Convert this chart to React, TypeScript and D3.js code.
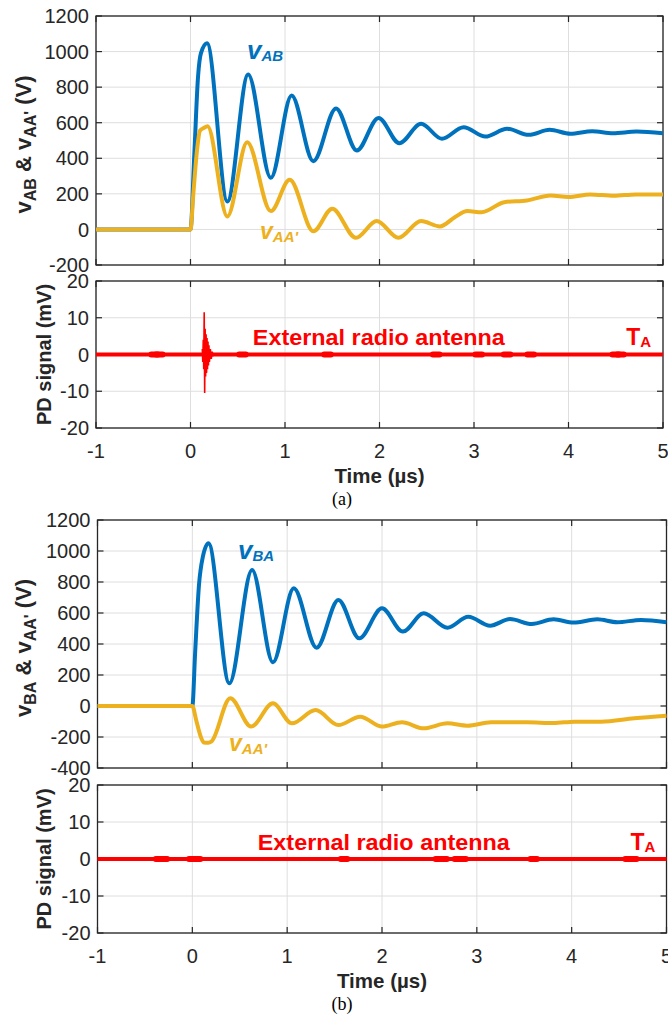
import React from 'react';
import * as d3 from 'd3';

// ---- data ----
const timeTicks = [-1, 0, 1, 2, 3, 4, 5];
const voltTicksA = [-200, 0, 200, 400, 600, 800, 1000, 1200];
const voltTicksB = [-400, -200, 0, 200, 400, 600, 800, 1000, 1200];
const pdTicks = [-20, -10, 0, 10, 20];

// (a) v_AB
const aBlueT = [-1, 0, 0.04, 0.08, 0.11, 0.175, 0.39, 0.61, 0.85, 1.07, 1.3, 1.54, 1.76, 1.99, 2.21, 2.44, 2.66, 2.89, 3.12, 3.35, 3.58, 3.8, 4.02, 4.25, 4.47, 4.72, 5];
const aBlueV = [0, 0, 420, 860, 990, 1047, 157, 871, 290, 753, 384, 680, 444, 627, 485, 594, 510, 575, 522, 566, 532, 560, 538, 552, 541, 550, 541];
// (a) v_AA'
const aYellowT = [-1, 0, 0.03, 0.07, 0.1, 0.14, 0.18, 0.39, 0.6, 0.85, 1.05, 1.3, 1.5, 1.75, 1.97, 2.2, 2.44, 2.64, 2.8, 2.93, 3.08, 3.32, 3.56, 3.81, 4.0, 4.23, 4.48, 4.71, 5];
const aYellowV = [0, 0, 200, 450, 555, 570, 580, 73, 490, 103, 279, -10, 116, -47, 47, -47, 47, 17, 70, 103, 97, 153, 163, 191, 182, 197, 189, 197, 197];
// (a) PD burst
const aBurstT = [0.125, 0.13, 0.135, 0.14, 0.145, 0.15, 0.155, 0.16, 0.165, 0.17, 0.175, 0.18, 0.185, 0.19, 0.195, 0.2, 0.21, 0.22, 0.23, 0.24];
const aBurstV = [1.5, -2, 4, -4, 11.5, -10.5, 7, -6, 5.5, -5, 4.5, -4, 3.5, -3, 2.5, -2, 1.5, -1.2, 0.8, -0.5];
const aNoiseT = [-0.38, -0.33, 0.55, 1.45, 2.6, 3.05, 3.35, 3.6, 4.5, 4.55];

// (b) v_BA
const bBlueT = [-1, 0, 0.03, 0.07, 0.11, 0.17, 0.39, 0.63, 0.85, 1.07, 1.31, 1.54, 1.76, 2.0, 2.22, 2.44, 2.69, 2.91, 3.14, 3.35, 3.58, 3.81, 4.02, 4.27, 4.48, 4.73, 5];
const bBlueV = [0, 0, 350, 780, 960, 1050, 146, 877, 282, 759, 376, 684, 437, 630, 480, 598, 505, 576, 518, 561, 529, 559, 538, 559, 540, 555, 540];
// (b) v_AA'
const bYellowT = [-1, 0, 0.04, 0.09, 0.12, 0.17, 0.2, 0.4, 0.62, 0.85, 1.05, 1.3, 1.54, 1.77, 2.0, 2.21, 2.44, 2.69, 2.9, 3.15, 3.53, 3.81, 4.03, 4.31, 4.66, 5];
const bYellowV = [0, 0, -90, -200, -235, -237, -230, 50, -133, 17, -112, -26, -123, -69, -133, -105, -144, -112, -127, -105, -105, -110, -101, -101, -79, -63];
const bNoiseT = [-0.35, -0.3, 0.0, 0.05, 1.6, 2.6, 2.65, 2.8, 2.85, 3.6, 4.6, 4.65];

const W = 668;
const H = 1017;
const FONT = '"Liberation Sans", Arial, Helvetica, sans-serif';
const AX = '#262626';
const GRID = '#dedede';
const BLUE = '#0072BD';
const YELLOW = '#EDB120';
const RED = '#FF0000';

type Scale = d3.ScaleLinear<number, number>;

function Frame({ x, y, xTicks, yTicks, xLabels }: { x: Scale; y: Scale; xTicks: number[]; yTicks: number[]; xLabels: boolean }) {
  const [l, r] = x.range();
  const [b, t] = y.range();
  const tl = 6;
  return (
    <g>
      {xTicks.map((d) => (
        <line key={'gx' + d} x1={x(d)} x2={x(d)} y1={t} y2={b} stroke={GRID} strokeWidth={1} />
      ))}
      {yTicks.map((d) => (
        <line key={'gy' + d} x1={l} x2={r} y1={y(d)} y2={y(d)} stroke={GRID} strokeWidth={1} />
      ))}
      {xTicks.map((d) => (
        <g key={'tx' + d}>
          <line x1={x(d)} x2={x(d)} y1={b} y2={b - tl} stroke={AX} strokeWidth={1.2} />
          <line x1={x(d)} x2={x(d)} y1={t} y2={t + tl} stroke={AX} strokeWidth={1.2} />
          {xLabels && (
            <text x={x(d)} y={b + 30} textAnchor="middle" fontSize={20} fill={AX}>
              {d}
            </text>
          )}
        </g>
      ))}
      {yTicks.map((d) => (
        <g key={'ty' + d}>
          <line x1={l} x2={l + tl} y1={y(d)} y2={y(d)} stroke={AX} strokeWidth={1.2} />
          <line x1={r} x2={r - tl} y1={y(d)} y2={y(d)} stroke={AX} strokeWidth={1.2} />
          <text x={l - 7} y={y(d)} dy="0.36em" textAnchor="end" fontSize={20} fill={AX}>
            {d}
          </text>
        </g>
      ))}
      <rect x={l} y={t} width={r - l} height={b - t} fill="none" stroke={AX} strokeWidth={1.3} />
    </g>
  );
}

const curve = (x: Scale, y: Scale) =>
  d3.line<[number, number]>().x((d) => x(d[0])).y((d) => y(d[1])).curve(d3.curveMonotoneX);

function VLabel({ x, y, sub, color, size, dy }: { x: number; y: number; sub: string; color: string; size: number; dy: number }) {
  return (
    <text x={x} y={y} fill={color} fontWeight="bold" fontStyle="italic">
      <tspan fontSize={size}>v</tspan>
      <tspan fontSize={15} dy={dy}>{sub}</tspan>
    </text>
  );
}

function Panel({ left, right, top, mid, pdTop, pdBottom, vTicks, blue, yellow, burst, noise, blueSub, blueLbl, yellowLbl, textT, taT, caption }: any) {
  const x = d3.scaleLinear().domain([-1, 5]).range([left, right]);
  const yV = d3.scaleLinear().domain([vTicks[0], 1200]).range([mid, top]);
  const yP = d3.scaleLinear().domain([-20, 20]).range([pdBottom, pdTop]);
  const lv = curve(x, yV);
  const lp = d3.line<[number, number]>().x((d) => x(d[0])).y((d) => yP(d[1]));
  const cV = (top + mid) / 2 + 4;
  const cP = (pdTop + pdBottom) / 2;
  const center = (left + right) / 2;
  return (
    <g>
      <Frame x={x} y={yV} xTicks={timeTicks} yTicks={vTicks} xLabels={false} />
      <path d={lv(d3.zip(blue[0], blue[1]) as any) || ''} fill="none" stroke={BLUE} strokeWidth={4} strokeLinejoin="round" />
      <path d={lv(d3.zip(yellow[0], yellow[1]) as any) || ''} fill="none" stroke={YELLOW} strokeWidth={4} strokeLinejoin="round" />
      <VLabel x={blueLbl[0]} y={blueLbl[1]} sub={blueSub} color={BLUE} size={26} dy={2} />
      <VLabel x={yellowLbl[0]} y={yellowLbl[1]} sub="AA'" color={YELLOW} size={23} dy={3} />
      <text transform={`translate(${31},${cV}) rotate(-90)`} textAnchor="middle" fontWeight="bold" fontSize={22} fill={AX}>
        <tspan>v</tspan>
        <tspan fontSize={16} dy={5}>{blueSub}</tspan>
        <tspan dy={-5}> &amp; v</tspan>
        <tspan fontSize={16} dy={5}>AA'</tspan>
        <tspan dy={-5}> (V)</tspan>
      </text>

      <Frame x={x} y={yP} xTicks={timeTicks} yTicks={pdTicks} xLabels={true} />
      <path d={lp([[-1, 0], [5, 0]]) || ''} fill="none" stroke={RED} strokeWidth={4} />
      {noise.map((t: number) => (
        <path key={'n' + t} d={lp([[t - 0.035, 0], [t + 0.035, 0]]) || ''} stroke={RED} strokeWidth={6} strokeLinecap="round" />
      ))}
      {burst && (
        <path d={lp(d3.zip(burst[0], burst[1]) as any) || ''} fill="none" stroke={RED} strokeWidth={1.6} />
      )}
      <text x={x(textT)} y={yP(2.5)} fill={RED} fontWeight="bold" fontSize={22.5} textLength={252} lengthAdjust="spacingAndGlyphs">
        External radio antenna
      </text>
      <text x={x(taT)} y={yP(2.5)} fill={RED} fontWeight="bold" fontSize={23}>
        T<tspan fontSize={15} dy={2}>A</tspan>
      </text>
      <text transform={`translate(${51},${cP}) rotate(-90)`} textAnchor="middle" fontWeight="bold" fontSize={20} fill={AX}>
        PD signal (mV)
      </text>
      <text x={center} y={pdBottom + 55} textAnchor="middle" fontWeight="bold" fontSize={20.5} fill={AX}>
        Time (µs)
      </text>
      <text x={342} y={pdBottom + 77} textAnchor="middle" fontSize={18} fontFamily='"Liberation Serif", "Times New Roman", serif' fill="#000">
        {caption}
      </text>
    </g>
  );
}

export default function App() {
  return (
    <svg width={W} height={H} style={{ position: 'absolute', left: 0, top: 0, background: '#fff' }} fontFamily={FONT}>
      <rect width={W} height={H} fill="#fff" />
      <Panel
        left={96} right={663} top={16} mid={265} pdTop={281} pdBottom={428}
        vTicks={voltTicksA}
        blue={[aBlueT, aBlueV]} yellow={[aYellowT, aYellowV]}
        burst={[aBurstT, aBurstV]} noise={aNoiseT}
        blueSub="AB" blueLbl={[247, 59]} yellowLbl={[260, 239]}
        textT={0.66} taT={4.61} caption="(a)"
      />
      <Panel
        left={97.5} right={666.5} top={520} mid={768} pdTop={785} pdBottom={933}
        vTicks={voltTicksB}
        blue={[bBlueT, bBlueV]} yellow={[bYellowT, bYellowV]}
        burst={null} noise={bNoiseT}
        blueSub="BA" blueLbl={[238, 559]} yellowLbl={[229, 751]}
        textT={0.69} taT={4.62} caption="(b)"
      />
    </svg>
  );
}
